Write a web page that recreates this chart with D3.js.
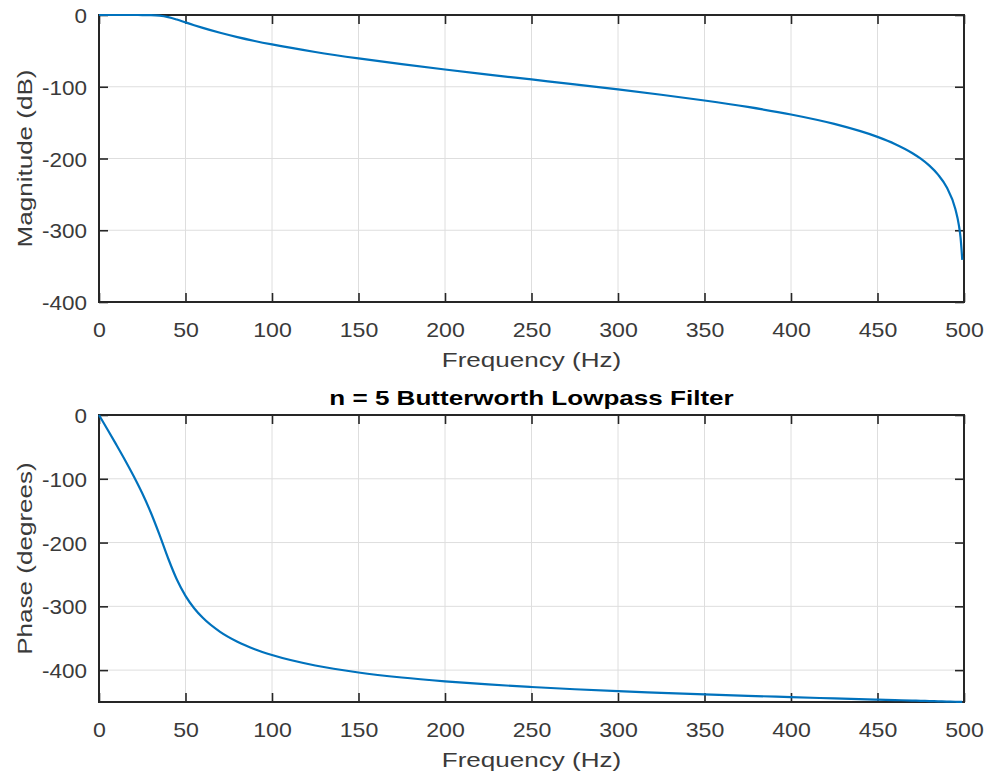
<!DOCTYPE html>
<html>
<head>
<meta charset="utf-8">
<script src="https://cdn.jsdelivr.net/npm/d3@7"></script>
<style>
  html, body { margin: 0; padding: 0; background: #fff; }
  svg { display: block; }
  text { font-family: "Liberation Sans", Arial, Helvetica, sans-serif; }
</style>
</head>
<body>
<svg id="chart" width="987" height="779"></svg>
<script>
// ---- data ----
const freqHz = [0,5,10,15,20,25,30,35,40,45,50,55,60,70,80,90,100,125,150,175,200,225,250,275,300,325,350,375,400,425,450,460,470,475,480,485,490,495,497,498,499];
const magnitudeDb = [0,0,0,0,-0.004,-0.038,-0.23,-1.0,-3.01,-6.33,-10.26,-14.2,-17.97,-24.8,-30.8,-36.17,-41.03,-51.57,-60.57,-68.58,-75.98,-83.0,-89.85,-96.7,-103.72,-111.12,-119.13,-128.13,-138.67,-151.81,-169.88,-179.7,-192.29,-200.25,-209.98,-222.49,-240.12,-270.24,-292.42,-310.03,-341.2];
const phaseDeg = [0,-23.1,-46.5,-70.5,-95.7,-122.8,-153.3,-188.0,-225.0,-258.0,-283.6,-303.0,-318.0,-340.0,-355.5,-367.2,-376.4,-392.8,-403.7,-411.6,-417.6,-422.5,-426.5,-430.0,-433.0,-435.6,-438.1,-440.3,-442.4,-444.4,-446.3,-447.0,-447.8,-448.2,-448.5,-448.9,-449.3,-449.6,-449.8,-449.85,-449.93];
const xTicks = [0,50,100,150,200,250,300,350,400,450,500];
const magTicks = [0,-100,-200,-300,-400];
const phaseTicks = [0,-100,-200,-300,-400];
const xDomain = [0, 500];
const magDomain = [-400, 0];
const phaseDomain = [-450, 0];
const xLabel = "Frequency (Hz)";
const magLabel = "Magnitude (dB)";
const phaseLabel = "Phase (degrees)";
const titleText = "n = 5 Butterworth Lowpass Filter";

// ---- layout ----
const svg = d3.select("#chart");
const left = 99, right = 964;
const axColor = "#262626", gridColor = "#dedede", lineColor = "#0072BD";
const fmt = d => String(d);

function stretch(sel, factor) {
  sel.each(function () {
    const l = this.getComputedTextLength();
    this.setAttribute("textLength", (l * factor).toFixed(1));
    this.setAttribute("lengthAdjust", "spacingAndGlyphs");
  });
}

function panel(top, bottom, yDomain, yTicks, yValues, yLabelText, titleStr) {
  const x = d3.scaleLinear().domain(xDomain).range([left, right]);
  const y = d3.scaleLinear().domain(yDomain).range([bottom, top]);
  const g = svg.append("g");

  // grid
  g.append("g").selectAll("line").data(xTicks).join("line")
    .attr("x1", d => x(d)).attr("x2", d => x(d))
    .attr("y1", top).attr("y2", bottom)
    .attr("stroke", gridColor).attr("stroke-width", 1);
  g.append("g").selectAll("line").data(yTicks).join("line")
    .attr("x1", left).attr("x2", right)
    .attr("y1", d => y(d)).attr("y2", d => y(d))
    .attr("stroke", gridColor).attr("stroke-width", 1);

  // axes (inside ticks, mirrored)
  const tl = 9;
  const axB = g.append("g").attr("transform", `translate(0,${bottom})`)
    .call(d3.axisBottom(x).tickValues(xTicks).tickSizeInner(-tl).tickSizeOuter(0).tickPadding(12).tickFormat(fmt));
  const axT = g.append("g").attr("transform", `translate(0,${top})`)
    .call(d3.axisTop(x).tickValues(xTicks).tickSizeInner(-tl).tickSizeOuter(0).tickFormat(""));
  const axL = g.append("g").attr("transform", `translate(${left},0)`)
    .call(d3.axisLeft(y).tickValues(yTicks).tickSizeInner(-tl).tickSizeOuter(0).tickPadding(12).tickFormat(fmt));
  const axR = g.append("g").attr("transform", `translate(${right},0)`)
    .call(d3.axisRight(y).tickValues(yTicks).tickSizeInner(-tl).tickSizeOuter(0).tickFormat(""));
  [axB, axT, axL, axR].forEach(a => {
    a.select(".domain").remove();
    a.selectAll(".tick line").attr("stroke", axColor).attr("stroke-width", 1.6);
    a.selectAll("text").attr("fill", "#3a3a3a").style("font-size", "21px");
  });
  axB.selectAll(".tick text").attr("dy", null).attr("y", 35).attr("dominant-baseline", "auto");
  axL.selectAll(".tick text").attr("dy", "0.36em").attr("x", -12);
  stretch(axB.selectAll(".tick text"), 1.1);
  stretch(axL.selectAll(".tick text"), 1.07);

  // box
  g.append("rect").attr("x", left).attr("y", top)
    .attr("width", right - left).attr("height", bottom - top)
    .attr("fill", "none").attr("stroke", axColor).attr("stroke-width", 2);

  // data line
  const pts = freqHz.map((f, i) => [f, yValues[i]]);
  g.append("path").datum(pts)
    .attr("fill", "none").attr("stroke", lineColor).attr("stroke-width", 2.2)
    .attr("stroke-linejoin", "round")
    .attr("d", d3.line().x(d => x(d[0])).y(d => y(d[1])).curve(d3.curveMonotoneX));

  // labels
  const xl = g.append("text").attr("x", (left + right) / 2).attr("y", bottom + 65)
    .attr("text-anchor", "middle").attr("fill", "#3a3a3a").style("font-size", "21px").text(xLabel);
  stretch(xl, 1.24);
  const yl = g.append("text")
    .attr("transform", `translate(32,${(top + bottom) / 2}) rotate(-90)`)
    .attr("text-anchor", "middle").attr("fill", "#3a3a3a").style("font-size", "21px").text(yLabelText);
  stretch(yl, 1.24);
  if (titleStr) {
    const t = g.append("text").attr("x", (left + right) / 2).attr("y", top - 10)
      .attr("text-anchor", "middle").attr("fill", "#000").style("font-size", "21px")
      .style("font-weight", "bold").text(titleStr);
    stretch(t, 1.24);
  }
}

panel(15, 302, magDomain, magTicks, magnitudeDb, magLabel, null);
panel(415, 702, phaseDomain, phaseTicks, phaseDeg, phaseLabel, titleText);
</script>
</body>
</html>
